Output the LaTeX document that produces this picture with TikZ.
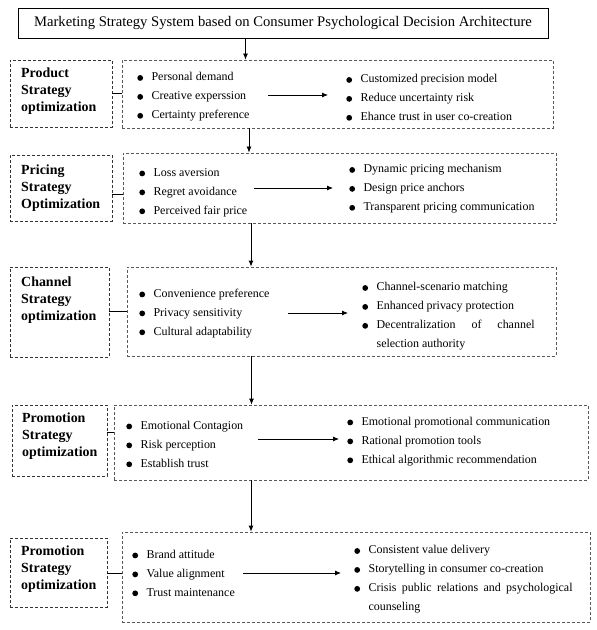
\documentclass[tikz,border=0pt]{standalone}
\usepackage{fontspec}
\setmainfont{Liberation Serif}
\usetikzlibrary{arrows.meta}
\newcommand\bul{\tikz\fill[black] (0,0) circle (2.9bp);}
\tikzset{
  titlebox/.style={draw=black, line width=0.9bp, inner sep=0pt, font=\fontsize{14.7}{17}\selectfont},
  lbox/.style={draw=black!80, dash pattern=on 3bp off 2bp, line width=0.8bp, inner sep=0pt},
  cbox/.style={draw=black!65, dash pattern=on 3bp off 2bp, line width=0.8bp, inner sep=0pt},
  ltext/.style={anchor=west, align=left, inner sep=0pt, font=\fontsize{14}{17}\selectfont\bfseries},
  lst/.style={anchor=west, inner sep=0pt, font=\fontsize{12}{19}\selectfont},
  arr/.style={line width=0.8bp, -{Latex[length=6bp,width=5bp]}},
  conn/.style={line width=0.8bp},
}
\newcommand\lstt[3]{\begin{tabular}{@{}l@{\hspace{8.5bp}}l@{}}\bul & #1\\ \bul & #2\\ \bul & #3\end{tabular}}
\begin{document}
\begin{tikzpicture}[x=1bp,y=-1bp]
\useasboundingbox (0,0) rectangle (597,630);
% title
\node[titlebox, minimum width=530bp, minimum height=30bp] (t) at (283,23) {Marketing Strategy System based on Consumer Psychological Decision Architecture};
% boxes
\node[lbox, minimum width=102bp, minimum height=67bp] (lb1) at (61,93.5) {};
\node[cbox, minimum width=431bp, minimum height=68bp] (cb1) at (337.5,94) {};
\node[lbox, minimum width=102bp, minimum height=66bp] (lb2) at (61,188) {};
\node[cbox, minimum width=433bp, minimum height=70bp] (cb2) at (339.5,188) {};
\node[lbox, minimum width=99bp, minimum height=90bp] (lb3) at (59.5,312) {};
\node[cbox, minimum width=429bp, minimum height=89bp] (cb3) at (341.5,311.5) {};
\node[lbox, minimum width=95bp, minimum height=71bp] (lb4) at (59.5,440.5) {};
\node[cbox, minimum width=474bp, minimum height=75bp] (cb4) at (351,442.5) {};
\node[lbox, minimum width=97bp, minimum height=69bp] (lb5) at (58.5,572.5) {};
\node[cbox, minimum width=468bp, minimum height=90bp] (cb5) at (356,577) {};
% label texts
\node[ltext] (lt1) at (21,91) {Product\\Strategy\\optimization};
\node[ltext] (lt2) at (21,188) {Pricing\\Strategy\\Optimization};
\node[ltext] (lt3) at (21,300) {Channel\\Strategy\\optimization};
\node[ltext] (lt4) at (22,436) {Promotion\\Strategy\\optimization};
\node[ltext] (lt5) at (21,569) {Promotion\\Strategy\\optimization};
% lists
\node[lst] (l1) at (137.1,96) {\lstt{Personal demand}{Creative experssion}{Certainty preference}};
\node[lst] (r1) at (346.1,98) {\lstt{Customized precision model}{Reduce uncertainty risk}{Ehance trust in user co-creation}};
\node[lst] (l2) at (139.1,191.5) {\lstt{Loss aversion}{Regret avoidance}{Perceived fair price}};
\node[lst] (r2) at (349.1,188) {\lstt{Dynamic pricing mechanism}{Design price anchors}{Transparent pricing communication}};
\node[lst] (l3) at (139.1,312.5) {\lstt{Convenience preference}{Privacy sensitivity}{Cultural adaptability}};
\node[lst] (r3) at (362.1,315.5) {\begin{tabular}{@{}l@{\hspace{8.5bp}}l@{}}\bul & Channel-scenario matching\\ \bul & Enhanced privacy protection\\ \bul & \makebox[158bp][s]{Decentralization of channel}\\ & selection authority\end{tabular}};
\node[lst] (l4) at (126.1,444.5) {\lstt{Emotional Contagion}{Risk perception}{Establish trust}};
\node[lst] (r4) at (347.1,440.5) {\lstt{Emotional promotional communication}{Rational promotion tools}{Ethical algorithmic recommendation}};
\node[lst] (l5) at (132.1,573.5) {\lstt{Brand attitude}{Value alignment}{Trust maintenance}};
\node[lst] (r5) at (354.1,578.5) {\begin{tabular}{@{}l@{\hspace{8.5bp}}l@{}}\bul & Consistent value delivery\\ \bul & Storytelling in consumer co-creation\\ \bul & \makebox[204bp][s]{Crisis public relations and psychological}\\ & counseling\end{tabular}};
% coordinates
\coordinate (v0) at (245.5,0);
\coordinate (v1) at (249,0);
\coordinate (v2) at (251,0);
\coordinate (v3) at (251.5,0);
\coordinate (v4) at (251,0);
\coordinate (k1) at (0,93);
\coordinate (k2) at (0,194);
\coordinate (k3) at (0,311);
\coordinate (k4) at (0,432);
\coordinate (k5) at (0,573);
\coordinate (a1s) at (268,95);  \coordinate (a1e) at (328,95);
\coordinate (a2s) at (254,188); \coordinate (a2e) at (333,188);
\coordinate (a3s) at (288,313); \coordinate (a3e) at (348,313);
\coordinate (a4s) at (258,439); \coordinate (a4e) at (339,439);
\coordinate (a5s) at (243,573); \coordinate (a5e) at (341,573);
% vertical connectors
\draw[arr] (t.south -| v0) -- (cb1.north -| v0);
\draw[arr] (cb1.south -| v1) -- (cb2.north -| v1);
\draw[arr] (cb2.south -| v2) -- (cb3.north -| v2);
\draw[arr] (cb3.south -| v3) -- (cb4.north -| v3);
\draw[arr] (cb4.south -| v4) -- (cb5.north -| v4);
% label connectors
\draw[conn] (lb1.east |- k1) -- (cb1.west |- k1);
\draw[conn] (lb2.east |- k2) -- (cb2.west |- k2);
\draw[conn] (lb3.east |- k3) -- (cb3.west |- k3);
\draw[conn] (lb4.east |- k4) -- (cb4.west |- k4);
\draw[conn] (lb5.east |- k5) -- (cb5.west |- k5);
% inner arrows
\draw[arr] (a1s) -- (a1e);
\draw[arr] (a2s) -- (a2e);
\draw[arr] (a3s) -- (a3e);
\draw[arr] (a4s) -- (a4e);
\draw[arr] (a5s) -- (a5e);
\end{tikzpicture}
\end{document}
